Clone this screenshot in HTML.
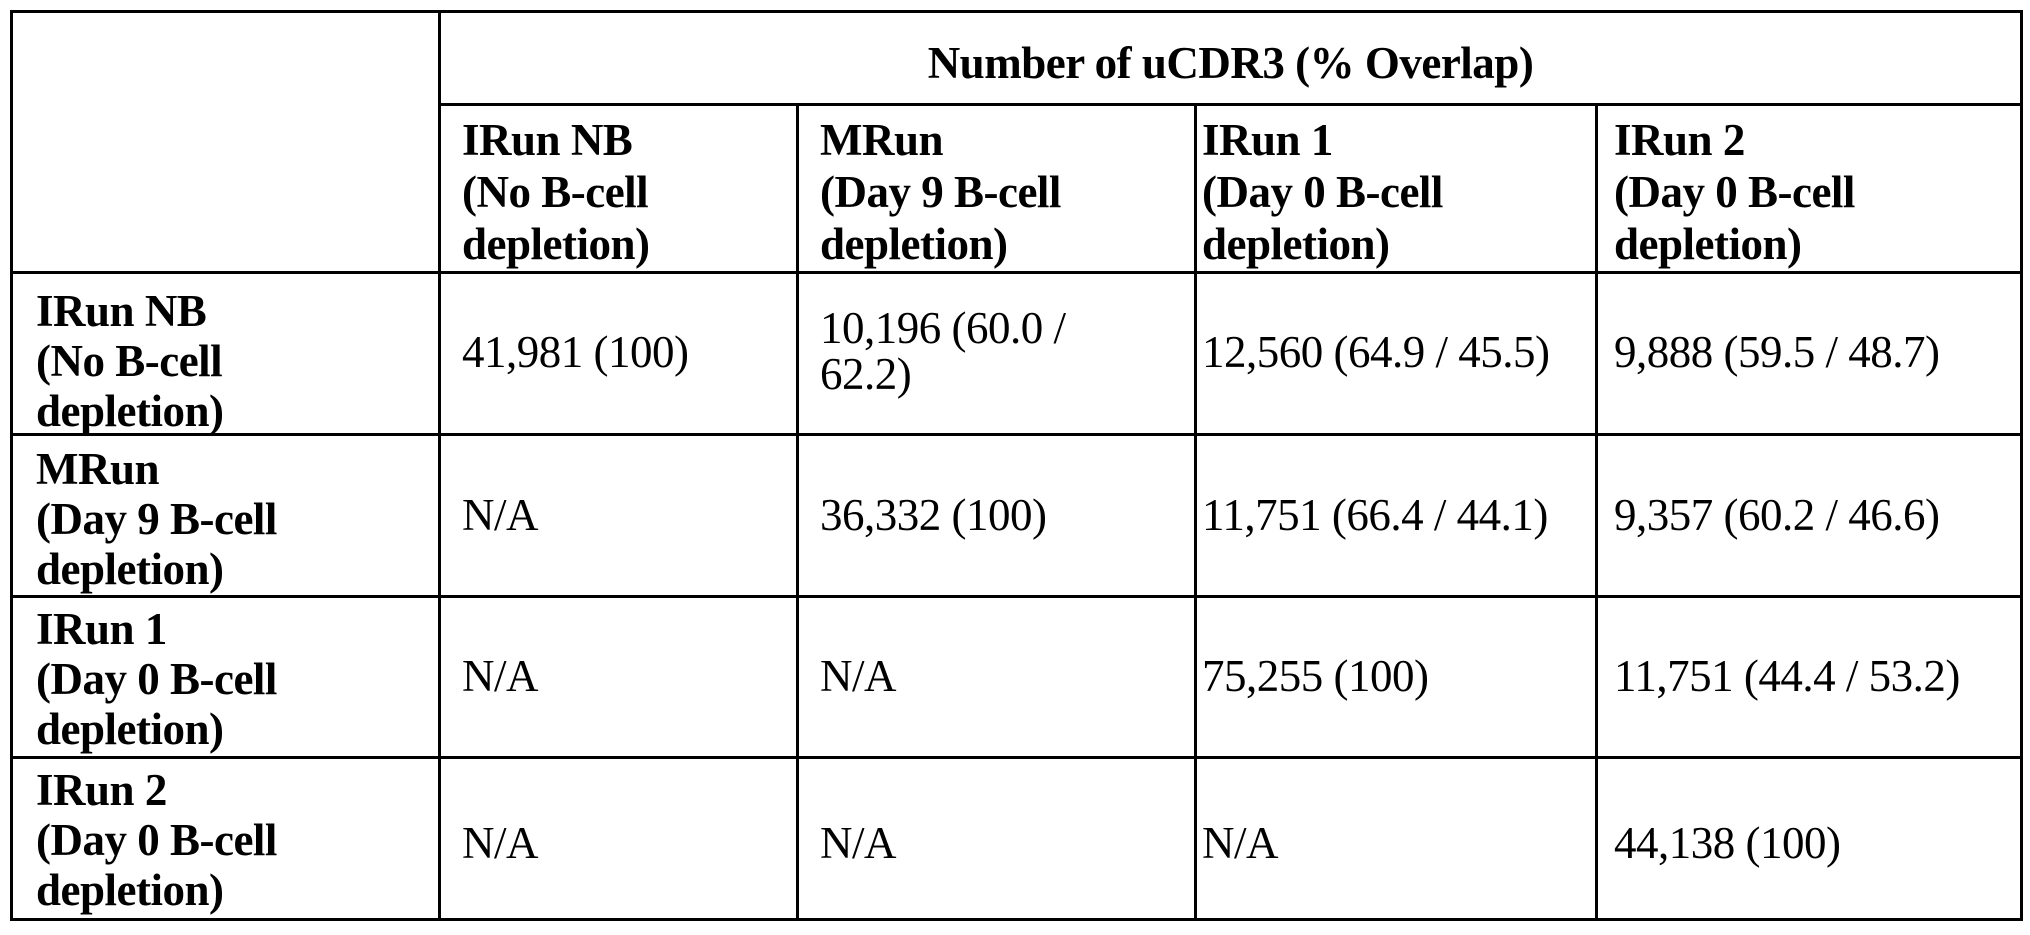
<!DOCTYPE html>
<html><head><style>
body{margin:0;width:2030px;height:935px;background:#fff;overflow:hidden;font-family:"Liberation Serif",serif;color:#000}
.l{position:absolute;background:#000}
.t{position:absolute;font-size:45px;line-height:50px;white-space:nowrap;letter-spacing:-0.5px}
.b{font-weight:bold}
.h{line-height:52px}
</style></head><body>
<div class="l" style="left:10px;top:10px;width:2013px;height:3px"></div>
<div class="l" style="left:438px;top:103px;width:1585px;height:3px"></div>
<div class="l" style="left:10px;top:271px;width:2013px;height:3px"></div>
<div class="l" style="left:10px;top:433px;width:2013px;height:3px"></div>
<div class="l" style="left:10px;top:595px;width:2013px;height:3px"></div>
<div class="l" style="left:10px;top:756px;width:2013px;height:3px"></div>
<div class="l" style="left:10px;top:918px;width:2013px;height:3px"></div>
<div class="l" style="left:10px;top:10px;width:3px;height:911px"></div>
<div class="l" style="left:438px;top:10px;width:3px;height:911px"></div>
<div class="l" style="left:796px;top:103px;width:3px;height:818px"></div>
<div class="l" style="left:1194px;top:103px;width:3px;height:818px"></div>
<div class="l" style="left:1595px;top:103px;width:3px;height:818px"></div>
<div class="l" style="left:2020px;top:10px;width:3px;height:911px"></div>

<div class="t b" style="left:441px;width:1579px;text-align:center;top:38px">Number of uCDR3 (% Overlap)</div>

<div class="t b h" style="left:462px;top:114px">IRun NB<br>(No B-cell<br>depletion)</div>
<div class="t b h" style="left:820px;top:114px">MRun<br>(Day 9 B-cell<br>depletion)</div>
<div class="t b h" style="left:1202px;top:114px">IRun 1<br>(Day 0 B-cell<br>depletion)</div>
<div class="t b h" style="left:1614px;top:114px">IRun 2<br>(Day 0 B-cell<br>depletion)</div>

<div class="t b" style="left:36px;top:286px">IRun NB<br>(No B-cell<br>depletion)</div>
<div class="t b" style="left:36px;top:444px">MRun<br>(Day 9 B-cell<br>depletion)</div>
<div class="t b" style="left:36px;top:604px">IRun 1<br>(Day 0 B-cell<br>depletion)</div>
<div class="t b" style="left:36px;top:765px">IRun 2<br>(Day 0 B-cell<br>depletion)</div>

<div class="t" style="left:462px;top:327px">41,981 (100)</div>
<div class="t" style="left:820px;top:305px;line-height:46px">10,196 (60.0 /<br>62.2)</div>
<div class="t" style="left:1202px;top:327px">12,560 (64.9 / 45.5)</div>
<div class="t" style="left:1614px;top:327px">9,888 (59.5 / 48.7)</div>

<div class="t" style="left:462px;top:490px">N/A</div>
<div class="t" style="left:820px;top:490px">36,332 (100)</div>
<div class="t" style="left:1202px;top:490px">11,751 (66.4 / 44.1)</div>
<div class="t" style="left:1614px;top:490px">9,357 (60.2 / 46.6)</div>

<div class="t" style="left:462px;top:651px">N/A</div>
<div class="t" style="left:820px;top:651px">N/A</div>
<div class="t" style="left:1202px;top:651px">75,255 (100)</div>
<div class="t" style="left:1614px;top:651px">11,751 (44.4 / 53.2)</div>

<div class="t" style="left:462px;top:818px">N/A</div>
<div class="t" style="left:820px;top:818px">N/A</div>
<div class="t" style="left:1202px;top:818px">N/A</div>
<div class="t" style="left:1614px;top:818px">44,138 (100)</div>
</body></html>
